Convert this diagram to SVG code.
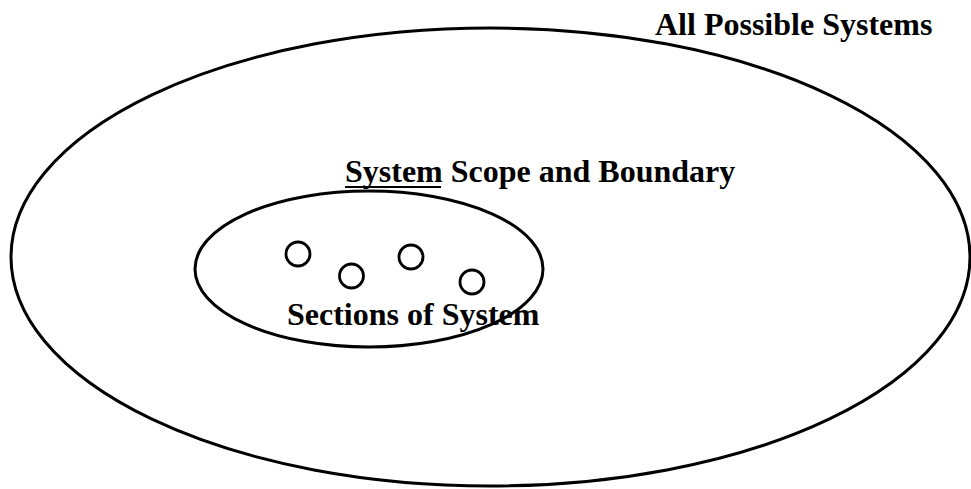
<svg xmlns="http://www.w3.org/2000/svg" width="971" height="489" viewBox="0 0 971 489">
<style>
.shape{fill:none;stroke:#000;stroke-width:3}
.sec{fill:none;stroke:#000;stroke-width:2.8}
.lbl{font-family:"Liberation Serif","Times New Roman",serif;font-weight:bold;font-size:32px;fill:#000}
</style>
<rect width="971" height="489" fill="#fff"/>
<g id="all-systems">
<ellipse class="shape" cx="490.5" cy="257" rx="479.5" ry="229"/>
<text class="lbl" x="655" y="35">All Possible Systems</text>
</g>
<g id="system-scope">
<ellipse class="shape" cx="369" cy="269" rx="174" ry="78"/>
<text class="lbl" x="345" y="182">System Scope and Boundary</text>
<line x1="345" y1="187" x2="441" y2="187" stroke="#000" stroke-width="2"/>
</g>
<g id="sections">
<circle class="sec" cx="298" cy="254" r="12"/>
<circle class="sec" cx="351.5" cy="276" r="12"/>
<circle class="sec" cx="411" cy="257" r="12"/>
<circle class="sec" cx="472" cy="282" r="12"/>
<text class="lbl" x="287" y="325">Sections of System</text>
</g>
<g id="connectors"></g>
</svg>
